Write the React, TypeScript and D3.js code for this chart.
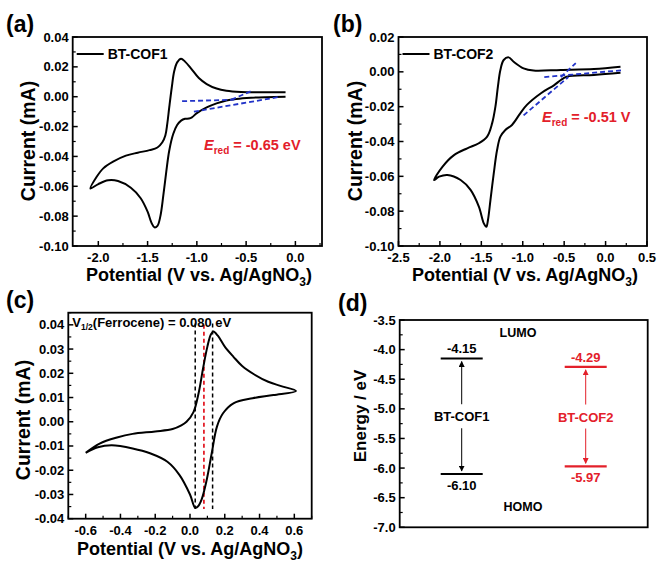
import React from "react";
import * as d3 from "d3";

// (a) BT-COF1 cyclic voltammogram, [V, mA]
const cof1Cathodic: [number, number][] = [
  [-0.10, 0.0], [-0.30, -0.0003], [-0.45, -0.0007], [-0.60, -0.0015], [-0.70, -0.0025],
  [-0.80, -0.0045], [-0.90, -0.0072], [-1.00, -0.011], [-1.05, -0.0138], [-1.08, -0.0146],
  [-1.12, -0.0148], [-1.16, -0.016], [-1.20, -0.019], [-1.24, -0.025], [-1.28, -0.036],
  [-1.31, -0.050], [-1.34, -0.066], [-1.37, -0.080], [-1.40, -0.0865], [-1.43, -0.0875],
  [-1.46, -0.0845], [-1.50, -0.077], [-1.57, -0.068], [-1.67, -0.061], [-1.80, -0.0565],
  [-1.90, -0.056], [-2.00, -0.0585], [-2.08, -0.0615],
];
const cof1Anodic: [number, number][] = [
  [-2.02, -0.054], [-1.95, -0.048], [-1.85, -0.0435], [-1.72, -0.0395], [-1.60, -0.0375],
  [-1.48, -0.0358], [-1.40, -0.034], [-1.35, -0.0305], [-1.32, -0.026], [-1.30, -0.018],
  [-1.28, -0.007], [-1.255, 0.006], [-1.23, 0.017], [-1.20, 0.023], [-1.16, 0.0255],
  [-1.12, 0.0235], [-1.06, 0.019], [-0.98, 0.0125], [-0.90, 0.0085], [-0.80, 0.0055],
  [-0.70, 0.004], [-0.55, 0.0032], [-0.35, 0.003], [-0.10, 0.003],
];
const cof1Fits: [number, number][][] = [
  [[-1.15, -0.003], [-0.62, -0.002]],
  [[-0.65, -0.002], [-0.44, 0.004]],
  [[-1.03, -0.010], [-0.15, 0.0]],
];

// (b) BT-COF2
const cof2Cathodic: [number, number][] = [
  [0.18, -0.0005], [-0.14, -0.0018], [-0.47, -0.0028], [-0.54, -0.0047], [-0.62, -0.0076],
  [-0.78, -0.0123], [-0.95, -0.019], [-1.03, -0.0238], [-1.13, -0.0305], [-1.21, -0.0334],
  [-1.27, -0.0372], [-1.31, -0.0449], [-1.35, -0.0583], [-1.39, -0.0736], [-1.42, -0.0851],
  [-1.44, -0.089], [-1.47, -0.087], [-1.53, -0.0774], [-1.63, -0.0678], [-1.75, -0.0621],
  [-1.91, -0.0592], [-2.01, -0.0602], [-2.07, -0.0621],
];
const cof2Anodic: [number, number][] = [
  [-1.97, -0.0545], [-1.83, -0.0478], [-1.67, -0.0439], [-1.53, -0.041], [-1.43, -0.0372],
  [-1.37, -0.0296], [-1.33, -0.020], [-1.30, -0.0085], [-1.27, 0.0011], [-1.23, 0.0068],
  [-1.17, 0.0083], [-1.11, 0.0058], [-0.99, 0.002], [-0.87, 0.0007], [-0.54, 0.0011],
  [-0.14, 0.0016], [0.18, 0.0029],
];
const cof2Fits: [number, number][][] = [
  [[-0.99, -0.025], [-0.45, -0.003]],
  [[-0.74, -0.003], [0.22, 0.001]],
  [[-0.54, -0.003], [-0.36, 0.005]],
];

// (c) ferrocene
const fcUpper: [number, number][] = [
  [-0.60, -0.0128], [-0.52, -0.009], [-0.42, -0.0065], [-0.33, -0.005], [-0.20, -0.004],
  [-0.10, -0.003], [-0.05, -0.0015], [-0.02, 0.0], [0.02, 0.004], [0.05, 0.012],
  [0.075, 0.022], [0.10, 0.031], [0.12, 0.036], [0.135, 0.0372], [0.16, 0.0355],
  [0.20, 0.031], [0.25, 0.0268], [0.30, 0.023], [0.37, 0.0195], [0.45, 0.0165],
  [0.52, 0.0148], [0.61, 0.0127],
];
const fcLower: [number, number][] = [
  [0.48, 0.011], [0.36, 0.0097], [0.25, 0.0076], [0.19, 0.0035], [0.155, -0.002],
  [0.125, -0.013], [0.096, -0.024], [0.067, -0.032], [0.045, -0.035], [0.03, -0.0355],
  [0.0, -0.030], [-0.06, -0.022], [-0.13, -0.0165], [-0.23, -0.013], [-0.33, -0.011],
  [-0.45, -0.0097], [-0.53, -0.0105], [-0.60, -0.0128],
];
const fcPeaks = [0.03, 0.13];
const fcHalf = 0.08;

// (d) energy levels
const cofNames = ["BT-COF1", "BT-COF2"];
const lumo = [-4.15, -4.29];
const homo = [-6.10, -5.97];

const RED = "#e3202a";
const BLUE = "#2233c8";
const FONT = "'Liberation Sans', Arial, sans-serif";
const TICK_FS = 13;

const fmt = (p: number) => (v: number) => d3.format(`.${p}f`)(v).replace("\u2212", "-");

type Box = { x0: number; x1: number; y0: number; y1: number };

function Frame({ box, x, y, xTicks, xMinor, yTicks, yMinor, xFmt, yFmt }: any) {
  return (
    <g>
      <rect x={box.x0} y={box.y0} width={box.x1 - box.x0} height={box.y1 - box.y0}
        fill="none" stroke="#000" strokeWidth={1.8} />
      {xTicks && xTicks.map((t: number) => (
        <g key={"xt" + t}>
          <line x1={x(t)} x2={x(t)} y1={box.y1} y2={box.y1 - 5} stroke="#000" strokeWidth={1.5} />
          <text x={x(t)} y={box.y1 + 16} textAnchor="middle" fontSize={TICK_FS} fontWeight="bold">{xFmt(t)}</text>
        </g>
      ))}
      {xMinor && xMinor.map((t: number) => (
        <line key={"xm" + t} x1={x(t)} x2={x(t)} y1={box.y1} y2={box.y1 - 3} stroke="#000" strokeWidth={1.2} />
      ))}
      {yTicks.map((t: number) => (
        <g key={"yt" + t}>
          <line x1={box.x0} x2={box.x0 + 5} y1={y(t)} y2={y(t)} stroke="#000" strokeWidth={1.5} />
          <text x={box.x0 - 4} y={y(t) + 4.5} textAnchor="end" fontSize={TICK_FS} fontWeight="bold">{yFmt(t)}</text>
        </g>
      ))}
      {yMinor.map((t: number) => (
        <line key={"ym" + t} x1={box.x0} x2={box.x0 + 3} y1={y(t)} y2={y(t)} stroke="#000" strokeWidth={1.2} />
      ))}
    </g>
  );
}

function XTitle({ cx, y }: { cx: number; y: number }) {
  return (
    <text x={cx} y={y} textAnchor="middle" fontSize={18} fontWeight="bold">
      Potential (V vs. Ag/AgNO<tspan dy={5} fontSize={12}>3</tspan><tspan dy={-5}>)</tspan>
    </text>
  );
}

function YTitle({ x, cy, label, fs }: { x: number; cy: number; label: string; fs: number }) {
  return (
    <text transform={`translate(${x},${cy}) rotate(-90)`} textAnchor="middle" fontSize={fs} fontWeight="bold">
      {label}
    </text>
  );
}

function range(a: number, b: number, s: number) {
  return d3.range(Math.round((b - a) / s) + 1).map((i) => +(a + i * s).toFixed(4));
}

function CvPanel({ box, xDomain, yDomain, xTicks, xMinor, yTicks, yMinor, loop, fits, name, ered, eredPos }: any) {
  const x = d3.scaleLinear().domain(xDomain).range([box.x0, box.x1]);
  const y = d3.scaleLinear().domain(yDomain).range([box.y1, box.y0]);
  const line = d3.line<[number, number]>().x((d) => x(d[0])).y((d) => y(d[1])).curve(d3.curveCatmullRom.alpha(0.5));
  const straight = d3.line<[number, number]>().x((d) => x(d[0])).y((d) => y(d[1]));
  return (
    <g>
      <path d={line(loop) || ""} fill="none" stroke="#000" strokeWidth={2} />
      {fits.map((f: [number, number][], i: number) => (
        <path key={i} d={straight(f) || ""} fill="none" stroke={BLUE} strokeWidth={1.8} strokeDasharray="5,3" />
      ))}
      <Frame box={box} x={x} y={y} xTicks={xTicks} xMinor={xMinor} yTicks={yTicks} yMinor={yMinor}
        xFmt={fmt(1)} yFmt={fmt(2)} />
      <line x1={box.x0 + 4} x2={box.x0 + 31} y1={box.y0 + 17} y2={box.y0 + 17} stroke="#000" strokeWidth={2} />
      <text x={box.x0 + 35} y={box.y0 + 22} fontSize={14} fontWeight="bold">{name}</text>
      <text x={eredPos[0]} y={eredPos[1]} fill={RED} fontSize={14.5} fontWeight="bold">
        <tspan fontStyle="italic">E</tspan><tspan dy={4} fontSize={10}>red</tspan><tspan dy={-4}>{` = ${ered}`}</tspan>
      </text>
    </g>
  );
}

function FcPanel() {
  const box: Box = { x0: 68.3, x1: 311.7, y0: 312.7, y1: 518.7 };
  const x = d3.scaleLinear().domain([-0.7, 0.7]).range([box.x0, box.x1]);
  const y = d3.scaleLinear().domain([-0.04, 0.045]).range([box.y1, box.y0]);
  const line = d3.line<[number, number]>().x((d) => x(d[0])).y((d) => y(d[1])).curve(d3.curveCatmullRom.alpha(0.5));
  return (
    <g>
      {fcPeaks.map((p) => (
        <line key={p} x1={x(p)} x2={x(p)} y1={y(0.0405)} y2={y(-0.036)} stroke="#000" strokeWidth={1.5} strokeDasharray="4,3" />
      ))}
      <line x1={x(fcHalf)} x2={x(fcHalf)} y1={y(0.04)} y2={y(-0.036)} stroke={RED} strokeWidth={1.8} strokeDasharray="4,3" />
      <path d={line(fcUpper.concat(fcLower)) || ""} fill="none" stroke="#000" strokeWidth={2} />
      <Frame box={box} x={x} y={y} xTicks={range(-0.6, 0.6, 0.2)} xMinor={range(-0.7, 0.7, 0.2)}
        yTicks={range(-0.04, 0.04, 0.01)} yMinor={range(-0.035, 0.045, 0.01)} xFmt={fmt(1)} yFmt={fmt(2)} />
      <text x={box.x0 + 4} y={box.y0 + 14} fontSize={13} fontWeight="bold">
        V<tspan dy={3} fontSize={8.5}>1/2</tspan><tspan dy={-3}>(Ferrocene) = 0.080 eV</tspan>
      </text>
    </g>
  );
}

function EnergyPanel() {
  const box: Box = { x0: 399.7, x1: 647.7, y0: 320, y1: 527.3 };
  const y = d3.scaleLinear().domain([-7, -3.5]).range([box.y1, box.y0]);
  const x = d3.scalePoint().domain(cofNames).range([box.x0, box.x1]).padding(0.5);
  const colors = ["#000", RED];
  return (
    <g>
      <defs>
        {colors.map((c, i) => (
          <marker key={i} id={"ah" + i} viewBox="0 0 10 10" refX={9} refY={5} markerWidth={6} markerHeight={6}
            markerUnits="userSpaceOnUse" orient="auto">
            <path d="M0,0 L10,5 L0,10 Z" fill={c} />
          </marker>
        ))}
      </defs>
      <Frame box={box} x={null} y={y} yTicks={range(-7, -3.5, 0.5)} yMinor={range(-6.75, -3.75, 0.5)} yFmt={fmt(1)} />
      {cofNames.map((n, i) => {
        const cx = x(n) as number;
        const mid = y((lumo[i] + homo[i]) / 2);
        const c = colors[i];
        return (
          <g key={n} fill={c}>
            <line x1={cx - 21} x2={cx + 21} y1={y(lumo[i])} y2={y(lumo[i])} stroke={c} strokeWidth={2.2} />
            <line x1={cx - 21} x2={cx + 21} y1={y(homo[i])} y2={y(homo[i])} stroke={c} strokeWidth={2.2} />
            <text x={cx} y={y(lumo[i]) - 5} textAnchor="middle" fontSize={13} fontWeight="bold">{fmt(2)(lumo[i])}</text>
            <text x={cx} y={y(homo[i]) + 16} textAnchor="middle" fontSize={13} fontWeight="bold">{fmt(2)(homo[i])}</text>
            <text x={cx} y={mid + 5} textAnchor="middle" fontSize={13} fontWeight="bold">{n}</text>
            <line x1={cx} x2={cx} y1={mid - 12} y2={y(lumo[i]) + 3} stroke={c} strokeWidth={1} markerEnd={`url(#ah${i})`} />
            <line x1={cx} x2={cx} y1={mid + 12} y2={y(homo[i]) - 3} stroke={c} strokeWidth={1} markerEnd={`url(#ah${i})`} />
          </g>
        );
      })}
      <text x={518} y={337} textAnchor="middle" fontSize={12.5} fontWeight="bold">LUMO</text>
      <text x={523} y={511} textAnchor="middle" fontSize={12.5} fontWeight="bold">HOMO</text>
    </g>
  );
}

export default function App() {
  const boxA: Box = { x0: 72.7, x1: 322, y0: 37, y1: 246 };
  const boxB: Box = { x0: 398.5, x1: 647, y0: 37, y1: 246 };
  return (
    <svg width={657} height={563} style={{ position: "absolute", left: 0, top: 0, background: "#fff" }}
      fontFamily={FONT}>
      <rect width={657} height={563} fill="#fff" />
      <CvPanel box={boxA} xDomain={[-2.26, 0.27]} yDomain={[-0.1, 0.04]}
        xTicks={range(-2, 0, 0.5)} xMinor={range(-1.75, 0.25, 0.5)}
        yTicks={range(-0.1, 0.04, 0.02)} yMinor={range(-0.09, 0.03, 0.02)}
        loop={cof1Cathodic.concat(cof1Anodic)} fits={cof1Fits} name="BT-COF1"
        ered="-0.65 eV" eredPos={[204, 150]} />
      <CvPanel box={boxB} xDomain={[-2.5, 0.5]} yDomain={[-0.1, 0.02]}
        xTicks={range(-2.5, 0.5, 0.5)} xMinor={range(-2.25, 0.25, 0.5)}
        yTicks={range(-0.1, 0.02, 0.02)} yMinor={range(-0.09, 0.01, 0.02)}
        loop={cof2Cathodic.concat(cof2Anodic)} fits={cof2Fits} name="BT-COF2"
        ered="-0.51 V" eredPos={[542, 122]} />
      <FcPanel />
      <EnergyPanel />

      <YTitle x={35} cy={141} label="Current (mA)" fs={19.5} />
      <YTitle x={362} cy={141} label="Current (mA)" fs={19.5} />
      <YTitle x={30} cy={420} label="Current (mA)" fs={19.5} />
      <YTitle x={366} cy={416} label="Energy / eV" fs={17} />
      <XTitle cx={199} y={281} />
      <XTitle cx={525} y={281} />
      <XTitle cx={190} y={555} />

      <text x={6} y={32} fontSize={23} fontWeight="bold">(a)</text>
      <text x={333} y={32} fontSize={23} fontWeight="bold">(b)</text>
      <text x={6} y={308} fontSize={23} fontWeight="bold">(c)</text>
      <text x={338} y={311} fontSize={23} fontWeight="bold">(d)</text>
    </svg>
  );
}
